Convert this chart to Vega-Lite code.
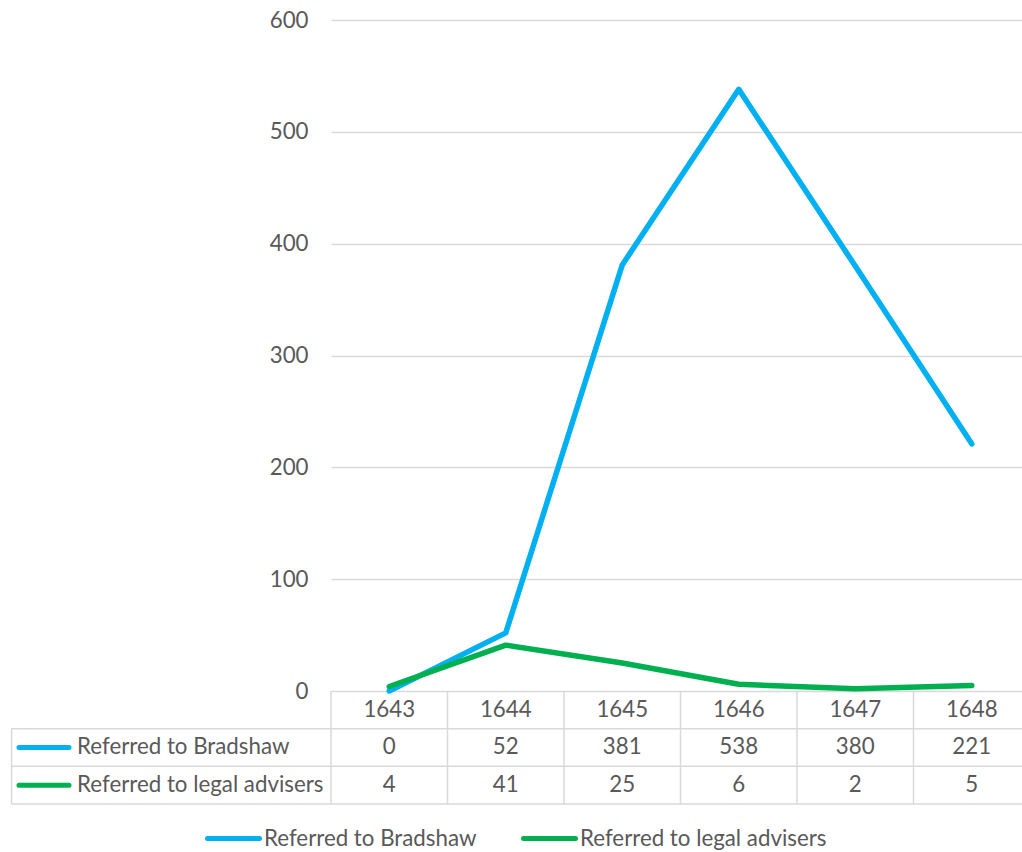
{
  "$schema": "https://vega.github.io/schema/vega-lite/v6.json",
  "autosize": {"type": "none"},
  "padding": {"left": 331, "top": 20, "right": 0, "bottom": 161},
  "width": 691,
  "height": 671,
  "config": {"font": "Lato", "view": {"stroke": null}},
  "data": {
    "values": [
      {"year": 1643, "series": "Referred to Bradshaw", "value": 0},
      {"year": 1644, "series": "Referred to Bradshaw", "value": 52},
      {"year": 1645, "series": "Referred to Bradshaw", "value": 381},
      {"year": 1646, "series": "Referred to Bradshaw", "value": 538},
      {"year": 1647, "series": "Referred to Bradshaw", "value": 380},
      {"year": 1648, "series": "Referred to Bradshaw", "value": 221},
      {"year": 1643, "series": "Referred to legal advisers", "value": 4},
      {"year": 1644, "series": "Referred to legal advisers", "value": 41},
      {"year": 1645, "series": "Referred to legal advisers", "value": 25},
      {"year": 1646, "series": "Referred to legal advisers", "value": 6},
      {"year": 1647, "series": "Referred to legal advisers", "value": 2},
      {"year": 1648, "series": "Referred to legal advisers", "value": 5}
    ]
  },
  "layer": [
    {
      "mark": {"type": "line", "strokeWidth": 5.5, "strokeCap": "round", "strokeJoin": "round"},
      "encoding": {
        "x": {"field": "year", "type": "quantitative", "scale": {"domain": [1642.5, 1648.4313], "nice": false, "zero": false}, "axis": null},
        "y": {"field": "value", "type": "quantitative", "scale": {"domain": [0, 600], "nice": false, "zero": false},
          "axis": {"values": [0, 100, 200, 300, 400, 500, 600], "title": null, "domain": false, "ticks": false, "labelPadding": 23, "labelFontSize": 22.3, "labelColor": "#595959", "labelFont": "Lato", "gridColor": "#d9d9d9", "gridWidth": 1.5}},
        "color": {"field": "series", "type": "nominal",
          "scale": {"domain": ["Referred to Bradshaw", "Referred to legal advisers"], "range": ["#00B0F0", "#00B050"]},
          "legend": {"orient": "none", "legendX": -126, "legendY": 790, "direction": "horizontal", "title": null, "symbolType": "stroke", "symbolSize": 2704, "symbolStrokeWidth": 5, "labelFontSize": 22.3, "labelColor": "#595959", "labelFont": "Lato", "labelLimit": 500, "columnPadding": 36, "labelOffset": 2, "padding": 0,
            "encode": {"symbols": {"update": {"strokeCap": {"value": "round"}}}}}}
      }
    },
    {
      "transform": [{"filter": "datum.series == 'Referred to Bradshaw'"}],
      "mark": {"type": "rule", "color": "#d9d9d9", "strokeWidth": 1.5, "xOffset": -58.25},
      "encoding": {"x": {"field": "year", "type": "quantitative"}, "y": {"datum": 0}, "y2": {"datum": -101.04}}
    },
    {
      "transform": [{"filter": "datum.series == 'Referred to Bradshaw' && datum.year == 1643"}],
      "mark": {"type": "rule", "color": "#d9d9d9", "strokeWidth": 1.5},
      "encoding": {"x": {"datum": 1639.758}, "y": {"datum": -33.68}, "y2": {"datum": -101.04}}
    },
    {
      "transform": [{"filter": "datum.series == 'Referred to Bradshaw' && datum.year == 1643"}],
      "mark": {"type": "rule", "color": "#d9d9d9", "strokeWidth": 1.5},
      "encoding": {"x": {"datum": 1639.758}, "x2": {"datum": 1648.4313}, "y": {"datum": -33.68}}
    },
    {
      "transform": [{"filter": "datum.series == 'Referred to Bradshaw' && datum.year == 1643"}],
      "mark": {"type": "rule", "color": "#d9d9d9", "strokeWidth": 1.5},
      "encoding": {"x": {"datum": 1639.758}, "x2": {"datum": 1648.4313}, "y": {"datum": -67.36}}
    },
    {
      "transform": [{"filter": "datum.series == 'Referred to Bradshaw' && datum.year == 1643"}],
      "mark": {"type": "rule", "color": "#d9d9d9", "strokeWidth": 1.5},
      "encoding": {"x": {"datum": 1639.758}, "x2": {"datum": 1648.4313}, "y": {"datum": -101.04}}
    },
    {
      "transform": [{"filter": "datum.series == 'Referred to Bradshaw' && datum.year == 1643"}],
      "mark": {"type": "rule", "color": "#00B0F0", "strokeWidth": 5, "strokeCap": "round"},
      "encoding": {"x": {"datum": 1639.822}, "x2": {"datum": 1640.251}, "y": {"datum": -50.52}}
    },
    {
      "transform": [{"filter": "datum.series == 'Referred to legal advisers' && datum.year == 1643"}],
      "mark": {"type": "rule", "color": "#00B050", "strokeWidth": 5, "strokeCap": "round"},
      "encoding": {"x": {"datum": 1639.822}, "x2": {"datum": 1640.251}, "y": {"datum": -84.2}}
    },
    {
      "transform": [{"filter": "datum.series == 'Referred to Bradshaw' && datum.year == 1643"}],
      "mark": {"type": "text", "align": "left", "baseline": "middle", "fontSize": 22.3, "font": "Lato", "color": "#595959"},
      "encoding": {"x": {"datum": 1640.32}, "y": {"datum": -50.52}, "text": {"field": "series", "type": "nominal"}}
    },
    {
      "transform": [{"filter": "datum.series == 'Referred to legal advisers' && datum.year == 1643"}],
      "mark": {"type": "text", "align": "left", "baseline": "middle", "fontSize": 22.3, "font": "Lato", "color": "#595959"},
      "encoding": {"x": {"datum": 1640.32}, "y": {"datum": -84.2}, "text": {"field": "series", "type": "nominal"}}
    },
    {
      "transform": [{"filter": "datum.series == 'Referred to Bradshaw'"}],
      "mark": {"type": "text", "align": "center", "baseline": "middle", "fontSize": 22.3, "font": "Lato", "color": "#595959"},
      "encoding": {"x": {"field": "year", "type": "quantitative"}, "y": {"datum": -16.84}, "text": {"field": "year", "type": "nominal"}}
    },
    {
      "transform": [{"filter": "datum.series == 'Referred to Bradshaw'"}],
      "mark": {"type": "text", "align": "center", "baseline": "middle", "fontSize": 22.3, "font": "Lato", "color": "#595959"},
      "encoding": {"x": {"field": "year", "type": "quantitative"}, "y": {"datum": -50.52}, "text": {"field": "value", "type": "nominal"}}
    },
    {
      "transform": [{"filter": "datum.series == 'Referred to legal advisers'"}],
      "mark": {"type": "text", "align": "center", "baseline": "middle", "fontSize": 22.3, "font": "Lato", "color": "#595959"},
      "encoding": {"x": {"field": "year", "type": "quantitative"}, "y": {"datum": -84.2}, "text": {"field": "value", "type": "nominal"}}
    }
  ]
}
